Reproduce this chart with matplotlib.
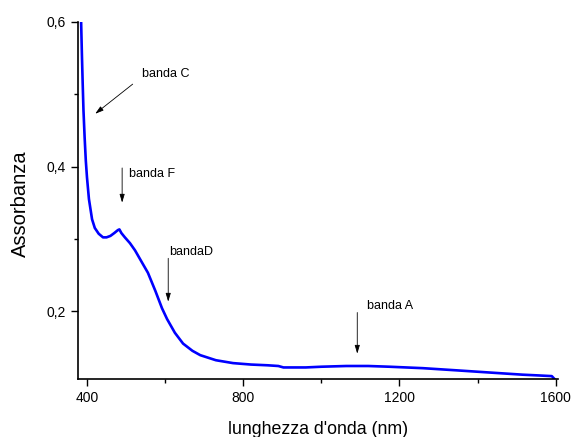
import matplotlib
matplotlib.use("Agg")
import matplotlib.pyplot as plt

# spettro di assorbimento
wl = [385, 387, 389, 391, 394, 397, 400, 405, 413, 420, 430, 441, 450, 460, 470,
      479, 483, 488, 497, 510, 523, 540, 556, 575, 592, 605, 625, 646, 670, 690,
      730, 774, 820, 862, 890, 903, 918, 960, 1000, 1064, 1120, 1174, 1260, 1346,
      1430, 1515, 1554, 1590, 1597]
ass = [0.600, 0.555, 0.515, 0.478, 0.440, 0.408, 0.385, 0.355, 0.327, 0.315, 0.307,
       0.302, 0.302, 0.304, 0.308, 0.312, 0.313, 0.308, 0.302, 0.294, 0.284, 0.268,
       0.253, 0.228, 0.204, 0.189, 0.170, 0.155, 0.145, 0.139, 0.132, 0.128, 0.126,
       0.125, 0.124, 0.122, 0.122, 0.122, 0.123, 0.124, 0.124, 0.123, 0.121, 0.118,
       0.115, 0.112, 0.111, 0.110, 0.106]

# etichette delle bande: testo, posizione testo, coda freccia, punta freccia
bande = ["banda C", "banda F", "bandaD", "banda A"]
testo_xy = [(540, 0.528), (508, 0.389), (610, 0.282), (1117, 0.207)]
coda_xy = [(517, 0.514), (490, 0.398), (608, 0.273), (1092, 0.198)]
punta_xy = [(421, 0.473), (490, 0.350), (608, 0.213), (1092, 0.141)]

plt.rcParams['font.family'] = ['Liberation Sans', 'DejaVu Sans']

fig = plt.figure(figsize=(5.71, 4.37), dpi=100)
ax = fig.add_axes([0.1366, 0.1327, 0.84, 0.817])

ax.plot(wl, ass, color=(0, 0, 1), lw=1.9)

for nome, t, c, p in zip(bande, testo_xy, coda_xy, punta_xy):
    ax.annotate("", xy=p, xytext=c,
                arrowprops=dict(arrowstyle="-|>,head_length=0.5,head_width=0.15",
                                color="black", lw=0.6, shrinkA=0, shrinkB=0))
    ax.text(t[0], t[1], nome, fontsize=9, ha="left", va="center")

ax.set_xlim(377, 1605)
ax.set_ylim(0.106, 0.6)
ax.set_xticks([400, 800, 1200, 1600])
ax.set_xticks([600, 1000, 1400], minor=True)
ax.set_yticks([0.2, 0.4, 0.6])
ax.set_yticks([0.3, 0.5], minor=True)
ax.set_yticklabels(["0,2", "0,4", "0,6"])
ax.tick_params(which="both", direction="out", labelsize=10, width=1)
ax.tick_params(which="major", length=5)
ax.tick_params(which="minor", length=3)
for s in ["top", "right"]:
    ax.spines[s].set_visible(False)
for s in ["left", "bottom"]:
    ax.spines[s].set_linewidth(1.2)

ax.set_xlabel("lunghezza d'onda (nm)", fontsize=12.8, labelpad=12)
ax.set_ylabel("Assorbanza", fontsize=14.5)
ax.yaxis.set_label_coords(-0.100, 0.49)

fig.savefig("out.png", dpi=100)
